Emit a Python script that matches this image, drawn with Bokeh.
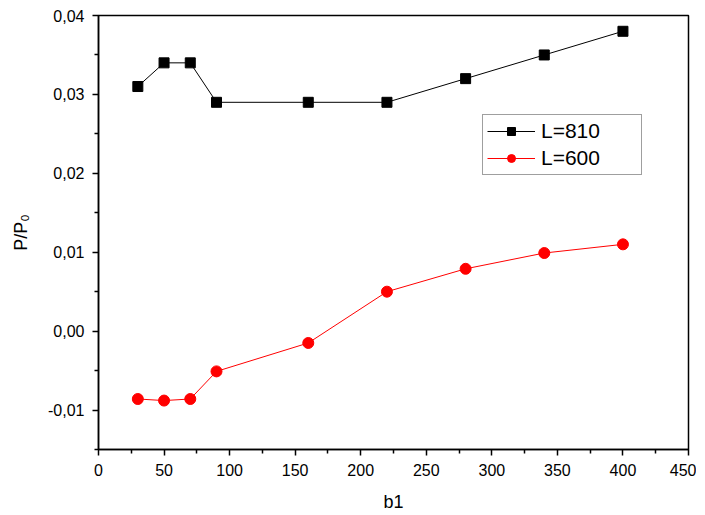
from bokeh.plotting import figure
from bokeh.models import FixedTicker, CustomJSTickFormatter, Legend, LegendItem, Range1d
from bokeh.embed import file_html
from bokeh.resources import INLINE

b1 = [30, 50, 70, 90, 160, 220, 280, 340, 400]
L810 = [0.031, 0.034, 0.034, 0.029, 0.029, 0.029, 0.032, 0.035, 0.038]
L600 = [-0.0086, -0.0088, -0.0086, -0.0051, -0.0015, 0.005, 0.0079, 0.0099, 0.011]

x_major = [0, 50, 100, 150, 200, 250, 300, 350, 400, 450]
x_minor = [25, 75, 125, 175, 225, 275, 325, 375, 425]
y_major = [-0.01, 0.0, 0.01, 0.02, 0.03, 0.04]
y_minor = [-0.015, -0.005, 0.005, 0.015, 0.025, 0.035]

FONT = "Liberation Sans"

p = figure(frame_width=590, frame_height=434, output_backend="svg", toolbar_location=None,
           x_range=Range1d(0, 450), y_range=Range1d(-0.015, 0.04),
           min_border_left=98, min_border_right=8, min_border_top=15, min_border_bottom=60)
p.xgrid.visible = False
p.ygrid.visible = False
p.outline_line_color = "black"
p.outline_line_width = 1.5
p.background_fill_color = "white"
p.border_fill_color = "white"

r1l = p.line(b1, L810, line_color="black", line_width=1)
r1m = p.scatter(b1, L810, marker="square", size=10, fill_color="black", line_color="black")
r2l = p.line(b1, L600, line_color="red", line_width=1)
r2m = p.scatter(b1, L600, marker="circle", size=11, fill_color="red", line_color="red")

fmt = CustomJSTickFormatter(code="return tick.toFixed(2).replace('.', ',');")

for ax in (p.xaxis[0], p.yaxis[0]):
    ax.axis_line_width = 1.5
    ax.major_tick_line_width = 1.5
    ax.minor_tick_line_width = 1.5
    ax.major_tick_out = 6
    ax.major_tick_in = 0
    ax.minor_tick_out = 4
    ax.minor_tick_in = 0
    ax.major_label_text_font = FONT
    ax.major_label_text_font_size = "16px"
    ax.major_label_text_color = "black"
    ax.axis_label_text_font = FONT
    ax.axis_label_text_font_size = "18px"
    ax.axis_label_text_font_style = "normal"
    ax.axis_label_text_color = "black"
    ax.major_label_standoff = 8

p.xaxis[0].ticker = FixedTicker(ticks=x_major, minor_ticks=x_minor)
p.yaxis[0].ticker = FixedTicker(ticks=y_major, minor_ticks=y_minor)
p.yaxis[0].formatter = fmt
p.xaxis[0].axis_label = "b1"
p.yaxis[0].axis_label = "P/P\u2080"
p.xaxis[0].axis_label_standoff = 13
p.yaxis[0].axis_label_standoff = 14

legend = Legend(items=[LegendItem(label="L=810", renderers=[r1l, r1m]),
                       LegendItem(label="L=600", renderers=[r2l, r2m])],
                location=(384, 274))
legend.label_text_font = FONT
legend.label_text_font_size = "21px"
legend.label_text_color = "black"
legend.glyph_width = 48
legend.glyph_height = 20
legend.label_width = 96
legend.label_height = 21
legend.label_standoff = 6
legend.padding = 4
legend.spacing = 3
legend.margin = 0
legend.border_line_color = "#404040"
legend.border_line_width = 1
legend.background_fill_alpha = 1
p.add_layout(legend, "center")

open("out.html", "w").write(file_html(p, INLINE))
